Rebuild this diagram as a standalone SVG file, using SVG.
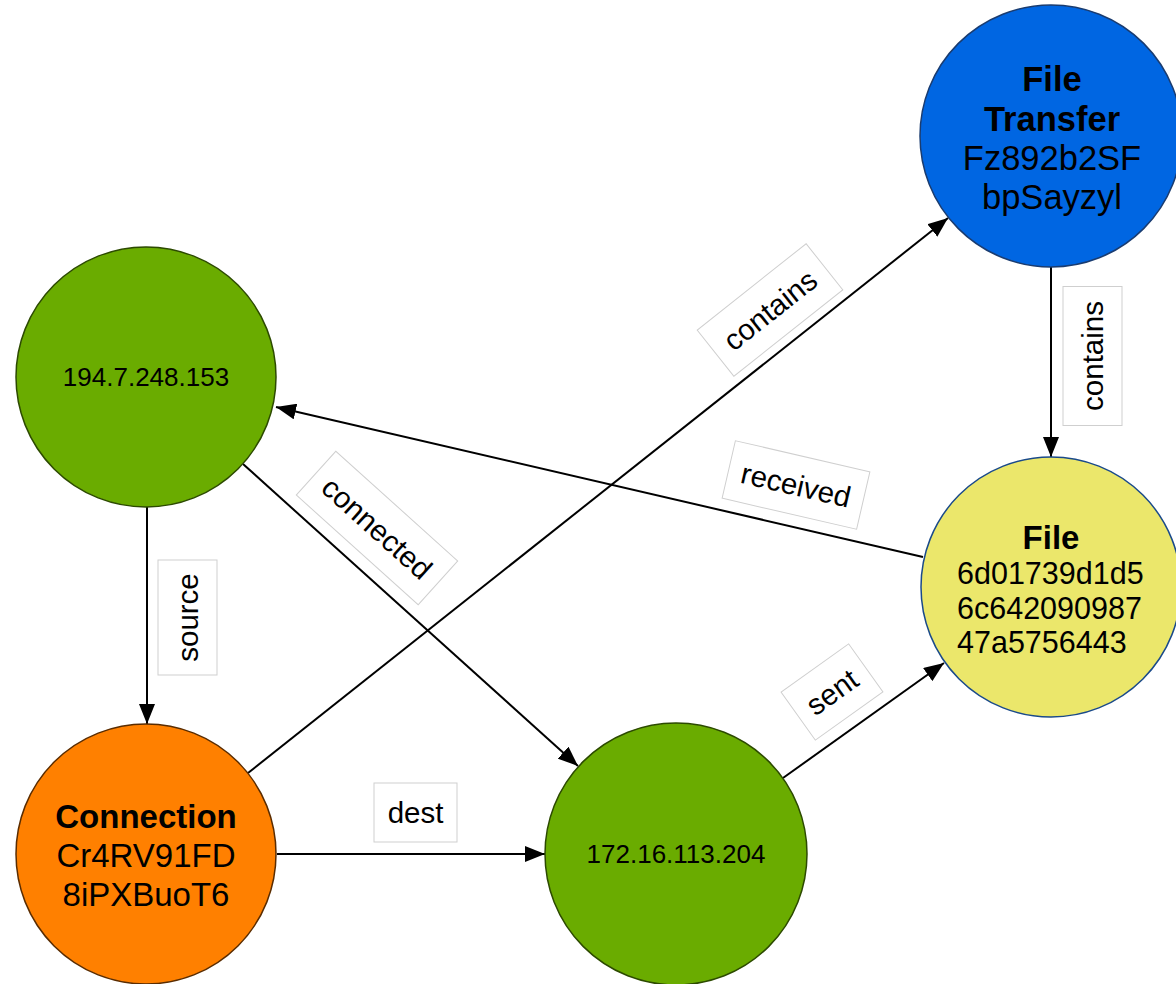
<svg xmlns="http://www.w3.org/2000/svg" width="1176" height="984" viewBox="0 0 1176 984">
  <defs>
    <marker id="arrow" viewBox="0 0 20 16" refX="20" refY="8" markerWidth="20" markerHeight="16" markerUnits="userSpaceOnUse" orient="auto">
      <path d="M0,0 L20,8 L0,16 Z" fill="#000"/>
    </marker>
    <style>
      .edge { stroke: #000; stroke-width: 2; fill: none; marker-end: url(#arrow); }
      .lbl rect { fill: #fff; stroke: #cfcfcf; stroke-width: 1; }
      .lbl text { font-family: "Liberation Sans", Arial, sans-serif; font-size: 29.5px; fill: #000; text-anchor: middle; }
      .node text { font-family: "Liberation Sans", Arial, sans-serif; fill: #000; text-anchor: middle; }
      .ip { fill: #6aac00; stroke: #2c4a00; stroke-width: 1.5; }
      .t { font-weight: bold; }
      .a { font-size: 26px; }
    </style>
  </defs>

  <!-- connectors -->
  <g id="edges">
    <line class="edge" x1="147" y1="507" x2="147" y2="724"/>
    <line class="edge" x1="277" y1="854" x2="545" y2="854"/>
    <line class="edge" x1="243" y1="464" x2="578" y2="766"/>
    <line class="edge" x1="248" y1="773" x2="948" y2="218"/>
    <line class="edge" x1="1051" y1="267" x2="1051" y2="457"/>
    <line class="edge" x1="923" y1="557" x2="276" y2="407"/>
    <line class="edge" x1="783" y1="778" x2="944" y2="663"/>

    <g class="lbl" transform="translate(187.5,617.5) rotate(-90)">
      <rect x="-57.5" y="-29.5" width="115" height="59"/>
      <text y="10.4">source</text>
    </g>
    <g class="lbl" transform="translate(415.5,812.5)">
      <rect x="-41.5" y="-29.5" width="83" height="59"/>
      <text y="10.4">dest</text>
    </g>
    <g class="lbl" transform="translate(377,528) rotate(42)">
      <rect x="-82" y="-29.5" width="164" height="59"/>
      <text y="10.4">connected</text>
    </g>
    <g class="lbl" transform="translate(770,310) rotate(-38.4)">
      <rect x="-69.5" y="-29.5" width="139" height="59"/>
      <text y="10.4">contains</text>
    </g>
    <g class="lbl" transform="translate(1092.5,356) rotate(-90)">
      <rect x="-69.5" y="-29.5" width="139" height="59"/>
      <text y="10.4">contains</text>
    </g>
    <g class="lbl" transform="translate(796,485) rotate(13)">
      <rect x="-69" y="-29.5" width="138" height="59"/>
      <text y="10.4">received</text>
    </g>
    <g class="lbl" transform="translate(832,692) rotate(-35.5)">
      <rect x="-41.5" y="-29.5" width="83" height="59"/>
      <text y="10.4">sent</text>
    </g>
  </g>

  <!-- nodes -->
  <g id="ip-194" class="node">
    <circle class="ip" cx="146" cy="377" r="130"/>
    <text class="a" x="146" y="386">194.7.248.153</text>
  </g>

  <g id="ip-172" class="node">
    <circle class="ip" cx="676" cy="854" r="131"/>
    <text class="a" x="676" y="863">172.16.113.204</text>
  </g>

  <g id="connection" class="node" font-size="33">
    <circle cx="146" cy="854" r="130" fill="#ff8000" stroke="#5a2c00" stroke-width="1.5"/>
    <text class="t" x="146" y="828">Connection</text>
    <text x="146" y="867">Cr4RV91FD</text>
    <text x="146" y="906">8iPXBuoT6</text>
  </g>

  <g id="file-transfer" class="node" font-size="34.5">
    <circle cx="1051" cy="136" r="131" fill="#0066e2" stroke="#1a3c70" stroke-width="1.5"/>
    <text class="t" x="1052" y="91">File</text>
    <text class="t" x="1052" y="131">Transfer</text>
    <text x="1052" y="170">Fz892b2SF</text>
    <text x="1052" y="209">bpSayzyl</text>
  </g>

  <g id="file" class="node">
    <circle cx="1051" cy="587" r="130" fill="#ebe76b" stroke="#1a4a8a" stroke-width="1.5"/>
    <text class="t" x="1051" y="549" font-size="33">File</text>
    <g font-size="30.5" style="text-anchor:start">
      <text x="957" y="584" style="text-anchor:start">6d01739d1d5</text>
      <text x="957" y="619" style="text-anchor:start">6c642090987</text>
      <text x="957" y="653" style="text-anchor:start">47a5756443</text>
    </g>
  </g>
</svg>
